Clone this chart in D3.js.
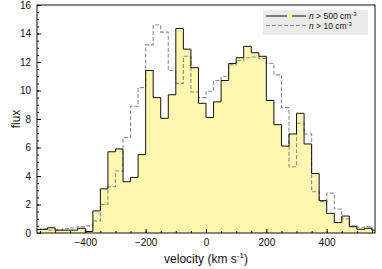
<!DOCTYPE html>
<html>
<head>
<meta charset="utf-8">
<script src="https://cdn.jsdelivr.net/npm/d3@7"></script>
<style>
  body { margin: 0; background: #fff; }
  svg { font-family: "Liberation Sans", Arial, sans-serif; }
</style>
</head>
<body>
<div id="chart"></div>
<script>
// bin edges every 25 km/s, from -575 to 575
const binStart = -575;
const binWidth = 25;

// n > 500 cm^-3 (filled, solid)
const denseFlux = [
  0.25, 0.25, 0.37, 0.2, 0.2, 0.2, 0.33, 0.1,
  1.55, 3.1, 5.7, 5.9, 3.6, 3.9, 5.5, 11.4,
  9.5, 8.05, 9.7, 14.35, 12.9, 11.6, 9.1, 8.1,
  9.2, 10.7, 11.9, 12.3, 13.1, 12.65, 12.4, 9.3,
  7.6, 6.1, 6.95, 8.4, 6.25, 4.17, 2.27, 1.38,
  0.73, 1.19, 0.44, 0.26, 0.33, 0.2
];

// n > 10 cm^-3 (dashed)
const diffuseFlux = [
  0.25, 0.3, 0.2, 0.2, 0.3, 0.35, 0.45, 0.5,
  0.85, 2.0, 3.25, 4.35, 6.7, 8.9, 10.2, 13.2,
  14.6, 14.1, 11.4, 10.5, 12.4, 9.9, 9.5, 9.95,
  10.7, 11.0, 11.8, 12.1, 12.3, 12.35, 12.25, 11.9,
  11.1, 8.8, 4.65, 7.7, 6.95, 2.9, 2.2, 2.8,
  1.68, 1.0, 0.5, 0.4, 0.45, 0.2
];

const xTicks = [-400, -200, 0, 200, 400];
const yTicks = [0, 2, 4, 6, 8, 10, 12, 14, 16];

const width = 382, height = 269;
const plot = { left: 37, right: 375, top: 5, bottom: 233 };

const x = d3.scaleLinear().domain([-560, 560]).range([plot.left, plot.right]);
const y = d3.scaleLinear().domain([0, 16]).range([plot.bottom, plot.top]);

// turn a list of bin heights into step points (left edge of each bin + closing edge)
function toSteps(vals) {
  const pts = vals.map((v, i) => [binStart + i * binWidth, v]);
  pts.push([binStart + vals.length * binWidth, vals[vals.length - 1]]);
  return pts;
}

const svg = d3.select('#chart').append('svg')
  .attr('width', width)
  .attr('height', height);

svg.append('defs').append('clipPath')
  .attr('id', 'clip')
  .append('rect')
  .attr('x', plot.left).attr('y', plot.top)
  .attr('width', plot.right - plot.left)
  .attr('height', plot.bottom - plot.top);

const g = svg.append('g').attr('clip-path', 'url(#clip)');

const area = d3.area()
  .curve(d3.curveStepAfter)
  .x(d => x(d[0]))
  .y0(y(0))
  .y1(d => y(d[1]));

const line = d3.line()
  .curve(d3.curveStepAfter)
  .x(d => x(d[0]))
  .y(d => y(d[1]));

g.append('path')
  .datum(toSteps(denseFlux))
  .attr('fill', '#fff7b0')
  .attr('d', area);

g.append('path')
  .datum(toSteps(diffuseFlux))
  .attr('fill', 'none')
  .attr('stroke', '#8a8a8a')
  .attr('stroke-width', 1.1)
  .attr('stroke-dasharray', '4,2')
  .attr('d', line);

g.append('path')
  .datum(toSteps(denseFlux))
  .attr('fill', 'none')
  .attr('stroke', '#111')
  .attr('stroke-width', 1)
  .attr('d', line);

// minor ticks
svg.append('g')
  .attr('transform', `translate(0,${plot.bottom})`)
  .call(d3.axisBottom(x).tickValues(d3.range(-550, 551, 50)).tickSize(-2).tickFormat(''))
  .call(a => a.select('.domain').remove());
svg.append('g')
  .attr('transform', `translate(${plot.left},0)`)
  .call(d3.axisLeft(y).tickValues(d3.range(0, 16.01, 0.5)).tickSize(-2).tickFormat(''))
  .call(a => a.select('.domain').remove());

// major ticks + labels
const xAxis = svg.append('g')
  .attr('transform', `translate(0,${plot.bottom})`)
  .call(d3.axisBottom(x).tickValues(xTicks).tickSize(-4).tickPadding(6))
  .call(a => a.select('.domain').remove());
xAxis.selectAll('text').attr('font-size', 10).attr('fill', '#111');

const yAxis = svg.append('g')
  .attr('transform', `translate(${plot.left},0)`)
  .call(d3.axisLeft(y).tickValues(yTicks).tickSize(-4).tickPadding(6))
  .call(a => a.select('.domain').remove());
yAxis.selectAll('text').attr('font-size', 10).attr('fill', '#111');

svg.selectAll('.tick line').attr('stroke', '#111');

// frame
svg.append('rect')
  .attr('x', plot.left).attr('y', plot.top)
  .attr('width', plot.right - plot.left)
  .attr('height', plot.bottom - plot.top)
  .attr('fill', 'none')
  .attr('stroke', '#111')
  .attr('stroke-width', 1);

// axis titles
const xt = svg.append('text')
  .attr('x', (plot.left + plot.right) / 2)
  .attr('y', 263)
  .attr('text-anchor', 'middle')
  .attr('font-size', 12)
  .attr('fill', '#111');
xt.append('tspan').text('velocity (km s');
xt.append('tspan').attr('font-size', 8).attr('dy', -5).text('-1');
xt.append('tspan').attr('dy', 5).text(')');

svg.append('text')
  .attr('transform', `translate(20,${(plot.top + plot.bottom) / 2}) rotate(-90)`)
  .attr('text-anchor', 'middle')
  .attr('font-size', 12)
  .attr('fill', '#111')
  .text('flux');

// legend
const lg = svg.append('g');
lg.append('rect')
  .attr('x', 263).attr('y', 10)
  .attr('width', 105).attr('height', 25)
  .attr('fill', '#ebebeb');

const legendItems = [
  { label: '500', yPos: 16, dash: null, stroke: '#111', marker: true },
  { label: '10', yPos: 25.5, dash: '4,2', stroke: '#8a8a8a', marker: false }
];

legendItems.forEach(d => {
  lg.append('line')
    .attr('x1', 266).attr('x2', 306)
    .attr('y1', d.yPos).attr('y2', d.yPos)
    .attr('stroke', d.stroke)
    .attr('stroke-width', 1)
    .attr('stroke-dasharray', d.dash);
  if (d.marker) {
    lg.append('rect')
      .attr('x', 287).attr('y', d.yPos - 2.5)
      .attr('width', 5).attr('height', 5)
      .attr('fill', '#fff59a');
  }
  const t = lg.append('text')
    .attr('x', 309).attr('y', d.yPos + 3)
    .attr('font-size', 8.5)
    .attr('fill', '#111');
  t.append('tspan').attr('font-style', 'italic').text('n');
  t.append('tspan').text(` > ${d.label} cm`);
  t.append('tspan').attr('font-size', 6).attr('dy', -3).text('-3');
});
</script>
</body>
</html>
